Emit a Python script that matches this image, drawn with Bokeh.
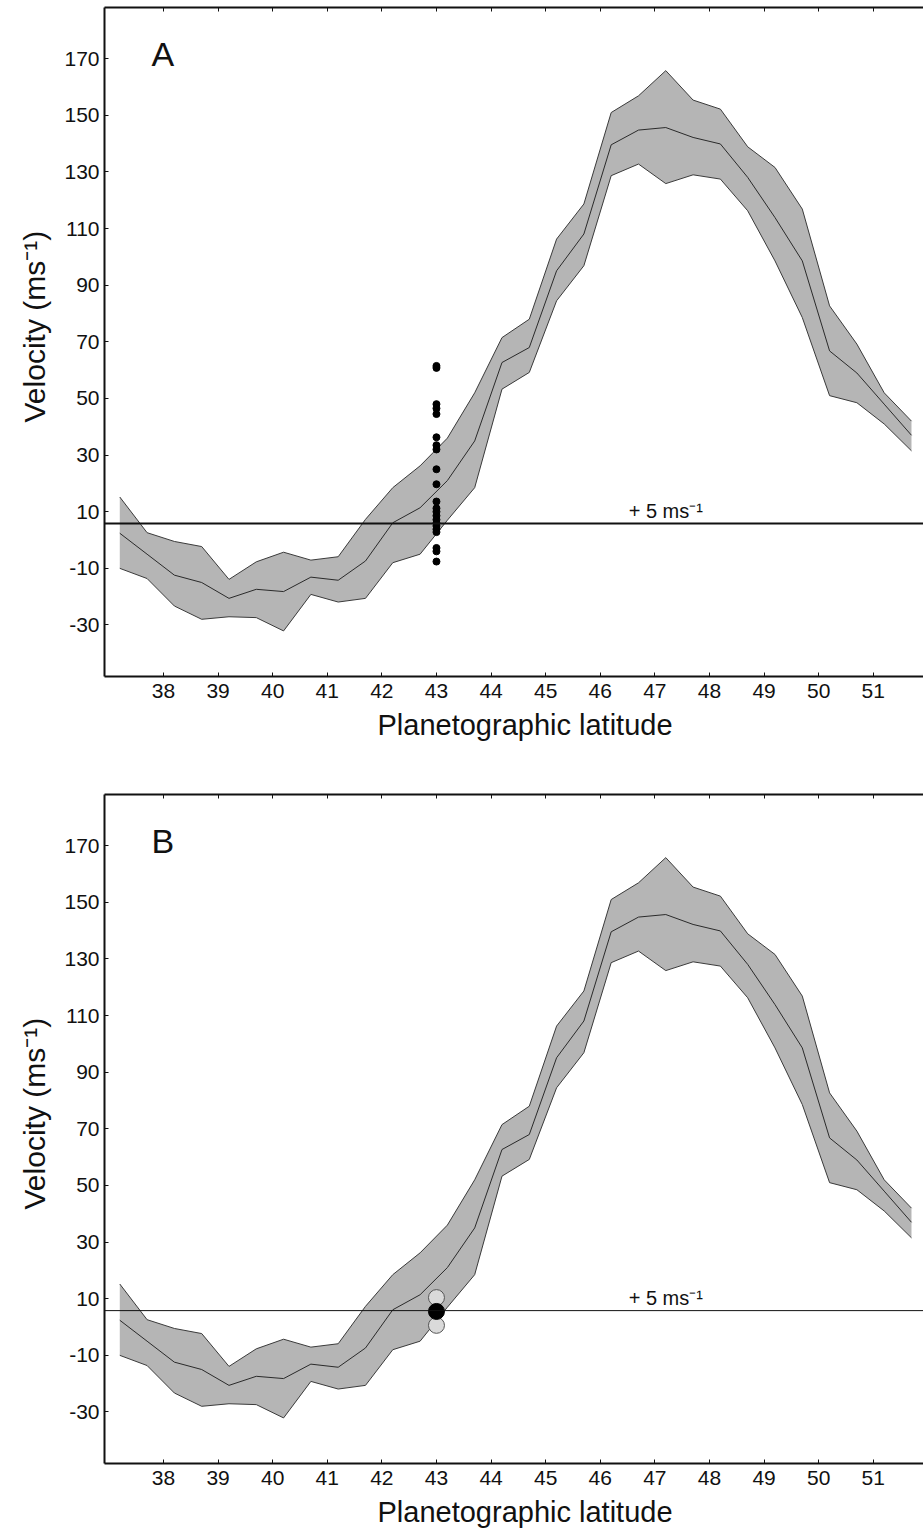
from bokeh.plotting import figure
from bokeh.models import Range1d, FixedTicker, LinearAxis, Span, Label, Title
from bokeh.layouts import column
from bokeh.embed import file_html
from bokeh.resources import INLINE

# ---- data ----
latitude = [37.2, 37.7, 38.2, 38.7, 39.2, 39.7, 40.2, 40.7, 41.2, 41.7,
            42.2, 42.7, 43.2, 43.7, 44.2, 44.7, 45.2, 45.7, 46.2, 46.7,
            47.2, 47.7, 48.2, 48.7, 49.2, 49.7, 50.2, 50.7, 51.2, 51.7]
upper = [15.2, 2.6, -0.5, -2.3, -13.9, -7.7, -4.3, -7.1, -5.9, 7.3,
         18.5, 26.2, 36.0, 52.0, 71.5, 78.0, 106.3, 118.7, 151.0, 156.9,
         165.8, 155.4, 152.2, 138.9, 131.6, 116.9, 82.7, 69.2, 52.0, 42.0]
mean = [2.4, -5.0, -12.4, -15.0, -20.6, -17.4, -18.2, -13.1, -14.2, -7.4,
        6.1, 11.4, 21.0, 35.0, 62.7, 68.0, 95.1, 108.1, 139.6, 144.8,
        145.7, 142.2, 139.9, 128.1, 113.9, 98.6, 66.8, 59.0, 48.0, 37.0]
lower = [-10.0, -13.6, -23.3, -28.0, -27.1, -27.4, -32.1, -19.2, -21.9, -20.6,
         -8.0, -5.0, 7.0, 18.5, 53.3, 59.2, 84.5, 96.9, 128.7, 132.8,
         125.9, 129.0, 127.5, 116.3, 98.6, 78.6, 51.0, 48.5, 41.0, 31.5]

obs_latitude = 43
obs_a = [61.5, 60.8, 48.0, 46.5, 44.5, 36.3, 33.5, 32.0, 25.0, 19.7,
         13.6, 11.2, 10.0, 8.6, 7.2, 6.0, 5.0, 3.8, 2.8, -2.8, -4.0, -7.6]
obs_b_gray = [10.4, 0.6]
obs_b_black = [5.5]

ref_velocity = 5.8
ref_text = "+ 5 ms\u207b\u00b9"

x_ticks = [38, 39, 40, 41, 42, 43, 44, 45, 46, 47, 48, 49, 50, 51]
y_ticks = [-30, -10, 10, 30, 50, 70, 90, 110, 130, 150, 170]
y_tick_labels = {t: str(t) for t in y_ticks}

FONT = "Liberation Sans"
BAND = "#b5b5b5"
EDGE = "#3a3a3a"
INK = "#111111"


def make_panel(letter, bottom_border, ref_width):
    p = figure(frame_width=819, frame_height=669,
               x_range=Range1d(36.92, 51.92), y_range=Range1d(-48.2, 188.1),
               output_backend="svg", toolbar_location=None,
               min_border_left=104, min_border_right=0,
               min_border_top=7, min_border_bottom=bottom_border,
               background_fill_color="white", border_fill_color="white")
    p.outline_line_color = None
    p.xgrid.visible = False
    p.ygrid.visible = False

    for ax in (p.xaxis[0], p.yaxis[0]):
        ax.axis_line_width = 2
        ax.axis_line_color = INK
        ax.major_tick_in = 4
        ax.major_tick_out = 0
        ax.major_tick_line_color = INK
        ax.minor_tick_line_color = None
        ax.major_label_text_font = FONT
        ax.major_label_text_font_size = "21px"
        ax.major_label_text_color = INK

    p.xaxis.ticker = FixedTicker(ticks=x_ticks)
    p.yaxis.ticker = FixedTicker(ticks=y_ticks)
    p.yaxis.major_label_overrides = y_tick_labels
    p.xaxis.major_label_standoff = 7
    p.yaxis.major_label_standoff = 5

    # top frame line with inward ticks (no labels)
    top = LinearAxis(ticker=FixedTicker(ticks=[], minor_ticks=x_ticks),
                     axis_line_width=2, axis_line_color=INK,
                     major_tick_line_color=None,
                     minor_tick_in=4, minor_tick_out=0,
                     minor_tick_line_color=INK,
                     major_label_standoff=0)
    p.add_layout(top, "above")

    p.add_layout(Title(text="Planetographic latitude", align="left",
                       offset=273, text_font=FONT, text_font_size="29px",
                       text_font_style="normal", text_color=INK,
                       standoff=13), "below")
    p.add_layout(Title(text="Velocity (ms\u207b\u00b9)", align="left",
                       offset=254, text_font=FONT, text_font_size="30px",
                       text_font_style="normal", text_color=INK,
                       standoff=22), "left")

    p.varea(x=latitude, y1=lower, y2=upper, fill_color=BAND)
    p.line(latitude, upper, line_color=EDGE, line_width=1)
    p.line(latitude, lower, line_color=EDGE, line_width=1)
    p.line(latitude, mean, line_color="#2a2a2a", line_width=1)

    p.add_layout(Span(location=ref_velocity, dimension="width",
                      line_color=INK, line_width=ref_width))
    p.add_layout(Label(x=46.52, y=10.4, text=ref_text, text_font=FONT,
                       text_font_size="20px", text_baseline="alphabetic",
                       text_color=INK))
    p.add_layout(Label(x=37.78, y=171.6, text=letter, text_font=FONT,
                       text_font_size="34px", text_baseline="alphabetic",
                       text_color=INK))
    return p


pa = make_panel("A", 111, 2)
pa.scatter([obs_latitude] * len(obs_a), obs_a, size=7,
           fill_color="black", line_color="black")

pb = make_panel("B", 69, 1)
pb.scatter([obs_latitude] * len(obs_b_gray), obs_b_gray, size=16,
           fill_color="#dadada", line_color="#555555", line_width=1)
pb.scatter([obs_latitude] * len(obs_b_black), obs_b_black, size=16,
           fill_color="black", line_color="black")

layout = column(pa, pb, spacing=0)
open("out.html", "w").write(file_html(layout, INLINE))
